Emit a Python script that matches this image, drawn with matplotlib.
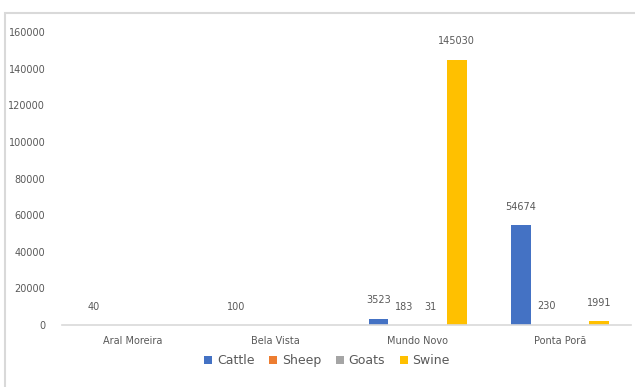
import numpy as np
import matplotlib.pyplot as plt
from matplotlib.patches import Rectangle

# Data
municipalities = ['Aral Moreira', 'Bela Vista', 'Mundo Novo', 'Ponta Porã']
cattle = [40, 100, 3523, 54674]
sheep = [np.nan, np.nan, 183, 230]
goats = [np.nan, np.nan, 31, np.nan]
swine = [np.nan, np.nan, 145030, 1991]

series = ['Cattle', 'Sheep', 'Goats', 'Swine']
values = [cattle, sheep, goats, swine]
colors = ['#4472C4', '#ED7D31', '#A5A5A5', '#FFC000']

txt = '#595959'

fig = plt.figure(figsize=(6.35, 3.87), dpi=100)
ax = fig.add_axes([0.0976, 0.160, 0.896, 0.757])

# light frame around the chart (only left and top edges visible)
fig.patches.append(Rectangle((0.008, -0.1), 1.1, 1.066, transform=fig.transFigure,
                             fill=False, edgecolor='#D9D9D9', linewidth=1.5))

x = np.arange(len(municipalities))
slot = 0.183
width = 0.14

for i, (name, vals, col) in enumerate(zip(series, values, colors)):
    pos = x + (i - 1.5) * slot
    v = np.array(vals, dtype=float)
    ax.bar(pos, np.nan_to_num(v), width, color=col, label=name)
    for p, val in zip(pos, v):
        if not np.isnan(val):
            ax.annotate(f'{int(val)}', (p, val), xytext=(0, 9.5), textcoords='offset points',
                        ha='center', va='bottom', fontsize=7, color=txt)

ax.set_xlim(-0.5, len(municipalities) - 0.5)
ax.set_ylim(0, 160000)
ax.set_yticks(np.arange(0, 160001, 20000))
ax.set_xticks(x)
ax.set_xticklabels(municipalities)

for s in ['top', 'right', 'left']:
    ax.spines[s].set_visible(False)
ax.spines['bottom'].set_color('#D9D9D9')
ax.spines['bottom'].set_linewidth(1.2)
ax.tick_params(axis='both', length=0, labelsize=7, colors=txt)
ax.tick_params(axis='y', pad=12)
ax.tick_params(axis='x', pad=8)

ax.legend(loc='upper center', bbox_to_anchor=(0.466, -0.082), ncol=4, frameon=False,
          fontsize=9, handlelength=0.6, handleheight=0.6, handletextpad=0.4,
          columnspacing=1.2, labelcolor=txt, borderaxespad=0)

fig.savefig('out.png', dpi=100)
